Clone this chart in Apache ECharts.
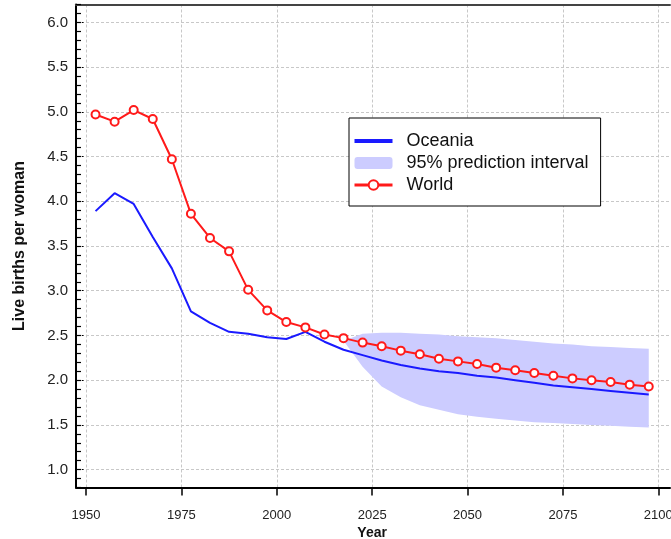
<!DOCTYPE html>
<html>
<head>
<meta charset="utf-8">
<script src="https://cdn.jsdelivr.net/npm/echarts@6/dist/echarts.min.js"></script>
<style>
html,body{margin:0;padding:0;background:#fff;}
#chart{width:671px;height:539px;}
</style>
</head>
<body>
<div id="chart"></div>
<script>
// ---- data ----
const years = [1952.5,1957.5,1962.5,1967.5,1972.5,1977.5,1982.5,1987.5,1992.5,1997.5,
  2002.5,2007.5,2012.5,2017.5,2022.5,2027.5,2032.5,2037.5,2042.5,2047.5,
  2052.5,2057.5,2062.5,2067.5,2072.5,2077.5,2082.5,2087.5,2092.5,2097.5];
const oceania = [3.89,4.09,3.97,3.60,3.25,2.77,2.64,2.54,2.52,2.48,
  2.46,2.54,2.43,2.34,2.28,2.22,2.17,2.13,2.10,2.08,
  2.05,2.03,2.00,1.97,1.94,1.92,1.90,1.88,1.86,1.84];
const world = [4.97,4.89,5.02,4.92,4.47,3.86,3.59,3.44,3.01,2.78,
  2.65,2.59,2.51,2.47,2.42,2.38,2.33,2.29,2.24,2.21,
  2.18,2.14,2.11,2.08,2.05,2.02,2.00,1.98,1.95,1.93];
const bandYears = [2017.5,2022.5,2027.5,2032.5,2037.5,2042.5,2047.5,2052.5,2057.5,
  2062.5,2067.5,2072.5,2077.5,2082.5,2087.5,2092.5,2097.5];
const bandLower = [2.44,2.15,1.93,1.81,1.72,1.67,1.62,1.59,1.57,1.55,1.53,1.52,1.51,1.50,1.49,1.48,1.47];
const bandUpper = [2.44,2.52,2.53,2.53,2.52,2.51,2.49,2.48,2.47,2.45,2.43,2.41,2.40,2.38,2.37,2.36,2.35];
const xTicks = [1950,1975,2000,2025,2050,2075,2100];
const yTicks = [1.0,1.5,2.0,2.5,3.0,3.5,4.0,4.5,5.0,5.5,6.0];
const seriesNames = ['Oceania','95% prediction interval','World'];
const axisNames = {x:'Year', y:'Live births per woman'};

// ---- layout ----
const FONT = '"Liberation Sans", Arial, Helvetica, sans-serif';
const xMinA = 1947.379, xMaxA = 2103.068;
const yMinA = 0.8, yMaxA = 6.2;
const gridLine = {show:true, lineStyle:{color:'#c8c8c8', type:[3,2], width:1}};

const chart = echarts.init(document.getElementById('chart'), null, {renderer:'canvas'});
const worldData = years.map((y,i)=>[y, world[i]]);
const oceaniaData = years.map((y,i)=>[y, oceania[i]]);
const bandData = bandYears.map((y,i)=>[y, bandLower[i], bandUpper[i]]);

chart.setOption({
  animation:false,
  backgroundColor:'#fff',
  textStyle:{fontFamily:FONT},
  grid:[
    {left:76, right:1, top:4.5, bottom:51.5, outerBoundsMode:'none', containLabel:false},
    {left:86, right:12.7, top:4.5, bottom:51.5, outerBoundsMode:'none', containLabel:false},
    {left:76, right:1, top:22.4, bottom:69.4, outerBoundsMode:'none', containLabel:false}
  ],
  xAxis:[
    {gridIndex:0, type:'value', min:xMinA, max:xMaxA, position:'bottom',
     axisLine:{show:true, lineStyle:{color:'#000', width:2}},
     axisTick:{show:false}, axisLabel:{show:false}, splitLine:{show:false}},
    {gridIndex:0, type:'value', min:xMinA, max:xMaxA, position:'top',
     axisLine:{show:true, lineStyle:{color:'#444', width:2}},
     axisTick:{show:false}, axisLabel:{show:false}, splitLine:{show:false}},
    {gridIndex:1, type:'value', min:xTicks[0], max:xTicks[xTicks.length-1], interval:25,
     axisLine:{show:false},
     axisTick:{show:true, inside:false, length:8, lineStyle:{color:'#000', width:1.5}},
     axisLabel:{show:true, margin:21, fontSize:13, color:'#222', fontFamily:FONT,
       hideOverlap:false, formatter:v=>String(v)},
     splitLine:gridLine,
     name:axisNames.x, nameLocation:'middle', nameGap:34,
     nameTextStyle:{fontSize:14, fontWeight:'bold', color:'#111', fontFamily:FONT}},
    {gridIndex:2, type:'value', min:xMinA, max:xMaxA, show:false}
  ],
  yAxis:[
    {gridIndex:0, type:'value', min:yMinA, max:yMaxA, interval:0.1,
     axisLine:{show:true, lineStyle:{color:'#000', width:2}},
     axisTick:{show:true, inside:true, length:5, lineStyle:{color:'#000', width:1.2}},
     axisLabel:{show:false}, splitLine:{show:false},
     name:axisNames.y, nameLocation:'middle', nameGap:48,
     nameTextStyle:{fontSize:16, fontWeight:'bold', color:'#111', fontFamily:FONT}},
    {gridIndex:1, type:'value', min:yMinA, max:yMaxA, show:false},
    {gridIndex:2, type:'value', min:yTicks[0], max:yTicks[yTicks.length-1], interval:0.5,
     axisLine:{show:false},
     axisTick:{show:true, inside:true, length:9, lineStyle:{color:'#000', width:1.2, type:[1.5,1.5]}},
     axisLabel:{show:true, margin:8, fontSize:15, color:'#222', fontFamily:FONT,
       formatter:v=>v.toFixed(1)},
     splitLine:gridLine}
  ],
  legend:{
    left:349, top:118, orient:'vertical',
    backgroundColor:'#fff', borderColor:'#000', borderWidth:1, borderRadius:0,
    padding:[14,12,12,4], itemGap:4, itemWidth:38, itemHeight:12,
    textStyle:{fontSize:18, color:'#111', fontFamily:FONT, padding:[0,0,0,9]},
    data:[
      {name:seriesNames[0], icon:'path://M0,0 L40,0 L40,4 L0,4 Z', itemStyle:{color:'#1a1aff'}},
      {name:seriesNames[1], icon:'roundRect', itemStyle:{color:'#ccccff'}},
      {name:seriesNames[2], lineStyle:{width:3}}
    ]
  },
  series:[
    {name:seriesNames[1], type:'custom', xAxisIndex:0, yAxisIndex:0, z:1,
     itemStyle:{color:'#ccccff'},
     data:bandData,
     encode:{x:0, y:[1,2]},
     renderItem:function(params, api){
       if (params.dataIndex !== 0) return null;
       const top = bandData.map(d=>api.coord([d[0], d[2]]));
       const bot = bandData.map(d=>api.coord([d[0], d[1]])).reverse();
       return {type:'polygon', shape:{points:top.concat(bot)},
               style:{fill:'#ccccff', stroke:null}};
     }},
    {name:seriesNames[0], type:'line', xAxisIndex:0, yAxisIndex:0, z:3,
     data:oceaniaData, showSymbol:false, symbol:'none',
     lineStyle:{color:'#1a1aff', width:2}, itemStyle:{color:'#1a1aff'}},
    {name:seriesNames[2], type:'line', xAxisIndex:0, yAxisIndex:0, z:4,
     data:worldData, symbol:'circle', symbolSize:8, showSymbol:true,
     lineStyle:{color:'#ff1a1a', width:2},
     itemStyle:{color:'#ffffff', borderColor:'#ff1a1a', borderWidth:2}}
  ]
});
</script>
</body>
</html>
